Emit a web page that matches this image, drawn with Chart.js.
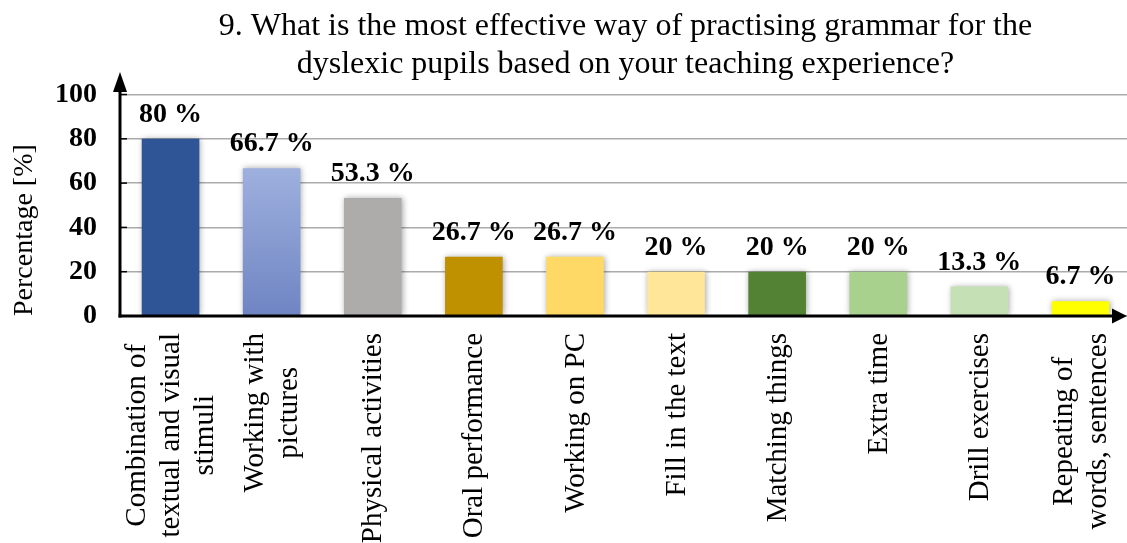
<!DOCTYPE html>
<html><head><meta charset="utf-8">
<script src="https://cdn.jsdelivr.net/npm/chart.js@4.4.1/dist/chart.umd.min.js"></script>
<style>
html,body{margin:0;padding:0;background:#fff;overflow:hidden}
#wrap{width:1127px;height:543px;overflow:hidden;position:relative;background:#fff}
canvas{display:block}
</style></head><body>
<div id="wrap"><canvas id="c" width="1131" height="543"></canvas></div>
<script>
const titleLines = ['9. What is the most effective way of practising grammar for the', 'dyslexic pupils based on your teaching experience?'];
const categories = [
  ['Combination of', 'textual and visual', 'stimuli'],
  ['Working with', 'pictures'],
  ['Physical activities'],
  ['Oral performance'],
  ['Working on PC'],
  ['Fill in the text'],
  ['Matching things'],
  ['Extra time'],
  ['Drill exercises'],
  ['Repeating of', 'words, sentences']
];
const values = [80, 66.7, 53.3, 26.7, 26.7, 20, 20, 20, 13.3, 6.7];
const yTicks = [0, 20, 40, 60, 80, 100];
const yTitle = 'Percentage [%]';
const barColors = ['#2f5597', 'gradient', '#aeabab', '#bf9000', '#ffd966', '#ffe699', '#548235', '#a9d18e', '#c5e0b4', '#ffff00'];
const gradientColors = ['#9eb0de', '#6f85c3'];

const SERIF = "'Liberation Serif','Times New Roman',serif";

function barColor(ctx) {
  const c = barColors[ctx.dataIndex];
  if (c !== 'gradient') return c;
  const chart = ctx.chart;
  if (!chart.chartArea || !chart.scales.y) return gradientColors[1];
  const y = chart.scales.y;
  const g = chart.ctx.createLinearGradient(0, y.getPixelForValue(values[ctx.dataIndex]), 0, y.getPixelForValue(0));
  g.addColorStop(0, gradientColors[0]);
  g.addColorStop(1, gradientColors[1]);
  return g;
}

const decor = {
  id: 'decor',
  beforeDatasetsDraw(chart) {
    const ctx = chart.ctx;
    ctx.save();
    ctx.shadowColor = 'rgba(0,0,0,0.35)';
    ctx.shadowBlur = 6;
    ctx.shadowOffsetX = 1;
    ctx.shadowOffsetY = 0;
  },
  afterDatasetsDraw(chart) {
    const ctx = chart.ctx;
    ctx.restore();
    const xs = chart.scales.x, ys = chart.scales.y;
    const area = chart.chartArea;
    const x0 = area.left, y0 = ys.getPixelForValue(0);

    // inside tick marks
    ctx.save();
    ctx.strokeStyle = '#000';
    ctx.lineWidth = 1.5;
    yTicks.forEach(v => {
      const y = ys.getPixelForValue(v);
      ctx.beginPath(); ctx.moveTo(x0, y); ctx.lineTo(x0 + 7, y); ctx.stroke();
    });
    // axes
    ctx.lineWidth = 3;
    ctx.beginPath(); ctx.moveTo(x0, y0 + 1.5); ctx.lineTo(x0, 88); ctx.stroke();
    ctx.beginPath(); ctx.moveTo(x0 - 1.5, y0); ctx.lineTo(1116, y0); ctx.stroke();
    ctx.fillStyle = '#000';
    ctx.beginPath(); ctx.moveTo(x0, 72); ctx.lineTo(x0 - 7, 92); ctx.lineTo(x0 + 7, 92); ctx.closePath(); ctx.fill();
    ctx.beginPath(); ctx.moveTo(1127, y0); ctx.lineTo(1112, y0 - 7.5); ctx.lineTo(1112, y0 + 7.5); ctx.closePath(); ctx.fill();

    // data labels
    ctx.font = 'bold 28px ' + SERIF;
    ctx.textAlign = 'center';
    ctx.textBaseline = 'alphabetic';
    values.forEach((v, i) => {
      const x = xs.getPixelForValue(i);
      const y = ys.getPixelForValue(v);
      ctx.fillText(v + ' %', x, y - 17);
    });

    // category labels (rotated, centred lines)
    ctx.font = '29px ' + SERIF;
    ctx.textBaseline = 'middle';
    ctx.textAlign = 'center';
    const lh = 34;
    categories.forEach((lines, i) => {
      const x = xs.getPixelForValue(i);
      const maxW = Math.max(...lines.map(l => ctx.measureText(l).width));
      ctx.save();
      ctx.translate(x, 333 + maxW / 2);
      ctx.rotate(-Math.PI / 2);
      lines.forEach((l, j) => {
        ctx.fillText(l, 0, (j - (lines.length - 1) / 2) * lh + 1);
      });
      ctx.restore();
    });
    ctx.restore();
  }
};

new Chart(document.getElementById('c'), {
  type: 'bar',
  data: {
    labels: categories.map(c => c.join(' ')),
    datasets: [{
      data: values,
      backgroundColor: barColor,
      borderWidth: 0,
      categoryPercentage: 1,
      barPercentage: 0.57
    }]
  },
  options: {
    responsive: false,
    animation: false,
    events: [],
    layout: { padding: { top: 0, left: 0, right: 0, bottom: 227 } },
    plugins: {
      legend: { display: false },
      tooltip: { enabled: false },
      title: {
        display: true,
        text: titleLines,
        fullSize: false,
        color: '#000',
        font: { family: SERIF, size: 32, weight: 'normal', lineHeight: 1.18 },
        padding: { top: 8, bottom: 11 }
      }
    },
    scales: {
      x: {
        ticks: { display: false },
        grid: { display: false, drawTicks: false },
        border: { display: false }
      },
      y: {
        min: 0, max: 100,
        afterBuildTicks: s => { s.ticks = yTicks.map(v => ({ value: v })); },
        afterFit: s => { s.width = 120; },
        ticks: {
          color: '#000',
          padding: 23,
          font: { family: SERIF, size: 28, weight: 'bold' }
        },
        grid: { color: '#ababab', lineWidth: 1.5, drawTicks: false },
        border: { display: false },
        title: {
          display: true,
          text: yTitle,
          align: 'start',
          color: '#000',
          font: { family: SERIF, size: 28, weight: 'normal', lineHeight: 1.2 },
          padding: { top: 8, bottom: 0 }
        }
      }
    }
  },
  plugins: [decor]
});
</script>
</body></html>
